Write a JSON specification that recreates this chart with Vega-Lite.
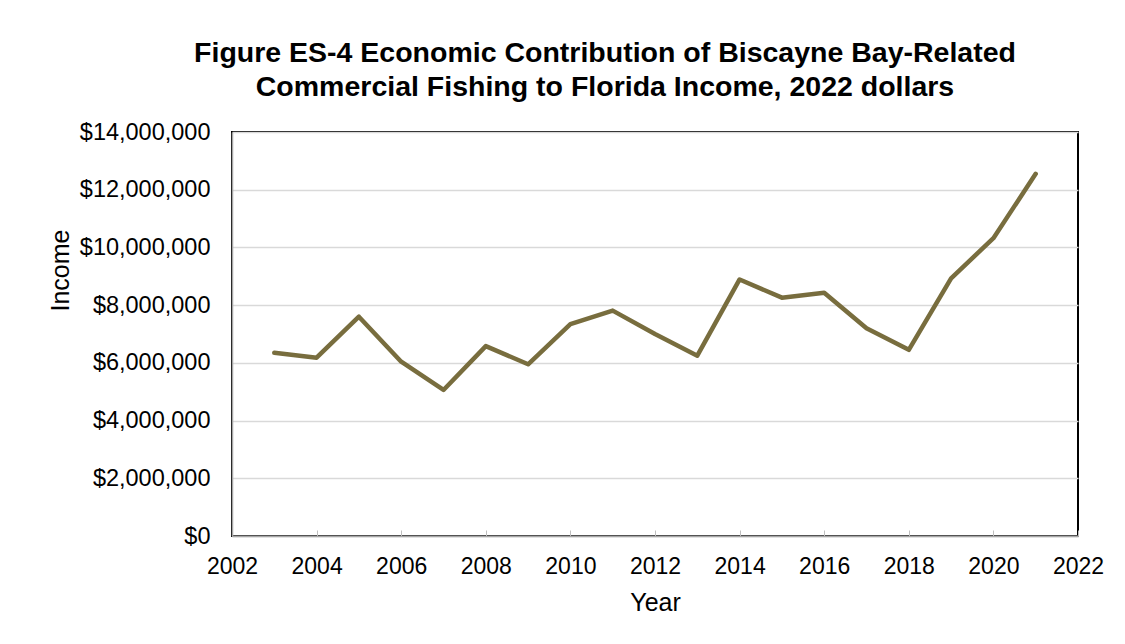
{
  "$schema": "https://vega.github.io/schema/vega-lite/v6.json",
  "width": 846,
  "height": 404,
  "autosize": {"type": "none"},
  "padding": {"left": 232, "top": 132, "right": 47, "bottom": 108},
  "background": "white",
  "title": {
    "text": ["Figure ES-4 Economic Contribution of Biscayne Bay-Related", "Commercial Fishing to Florida Income, 2022 dollars"],
    "font": "Liberation Sans",
    "fontSize": 28.5,
    "fontWeight": "bold",
    "color": "#000000",
    "anchor": "middle",
    "frame": "group",
    "dx": -50,
    "offset": 19,
    "lineHeight": 34
  },
  "config": {
    "view": {"stroke": "#000000", "strokeWidth": 2},
    "axis": {
      "labelFont": "Liberation Sans",
      "titleFont": "Liberation Sans",
      "labelColor": "#000000",
      "titleColor": "#000000",
      "domainColor": "#a6a6a6",
      "domainWidth": 1.5
    }
  },
  "data": {
    "values": [
      {"year": 2003, "income": 6350000},
      {"year": 2004, "income": 6180000},
      {"year": 2005, "income": 7600000},
      {"year": 2006, "income": 6040000},
      {"year": 2007, "income": 5060000},
      {"year": 2008, "income": 6580000},
      {"year": 2009, "income": 5950000},
      {"year": 2010, "income": 7340000},
      {"year": 2011, "income": 7810000},
      {"year": 2012, "income": 7000000},
      {"year": 2013, "income": 6250000},
      {"year": 2014, "income": 8890000},
      {"year": 2015, "income": 8260000},
      {"year": 2016, "income": 8430000},
      {"year": 2017, "income": 7200000},
      {"year": 2018, "income": 6450000},
      {"year": 2019, "income": 8930000},
      {"year": 2020, "income": 10320000},
      {"year": 2021, "income": 12550000}
    ]
  },
  "mark": {"type": "line", "color": "#786D3E", "strokeWidth": 4.5, "strokeJoin": "round", "strokeCap": "round"},
  "encoding": {
    "x": {
      "field": "year",
      "type": "quantitative",
      "scale": {"domain": [2002, 2022], "nice": false, "zero": false},
      "axis": {
        "values": [2002, 2004, 2006, 2008, 2010, 2012, 2014, 2016, 2018, 2020, 2022],
        "format": "d",
        "title": "Year",
        "grid": false,
        "ticks": true,
        "tickSize": -6,
        "tickColor": "#bfbfbf",
        "tickWidth": 1,
        "labelFontSize": 23,
        "labelPadding": 25,
        "labelFlush": false,
        "titleFontSize": 25,
        "titleFontWeight": "normal",
        "titlePadding": 12
      }
    },
    "y": {
      "field": "income",
      "type": "quantitative",
      "scale": {"domain": [0, 14000000], "nice": false},
      "axis": {
        "values": [0, 2000000, 4000000, 6000000, 8000000, 10000000, 12000000, 14000000],
        "format": "$,.0f",
        "title": "Income",
        "ticks": false,
        "grid": true,
        "gridColor": "#d9d9d9",
        "gridWidth": 1.5,
        "labelFontSize": 23.5,
        "labelPadding": 22,
        "labelFlush": false,
        "titleFontSize": 25,
        "titleFontWeight": "normal",
        "titleAngle": 270,
        "titleAlign": "center",
        "titleBaseline": "middle",
        "titleX": -172,
        "titleY": 138
      }
    }
  }
}
